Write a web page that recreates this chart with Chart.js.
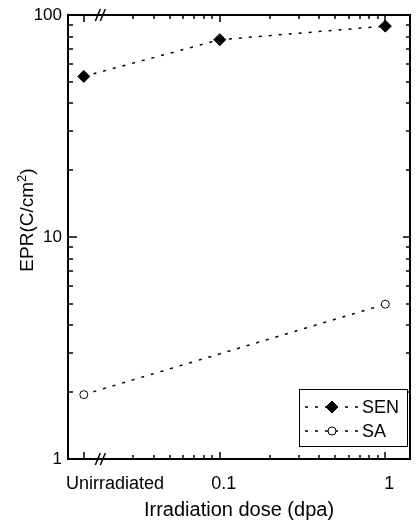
<!DOCTYPE html>
<html>
<head>
<meta charset="utf-8">
<script src="https://cdn.jsdelivr.net/npm/chart.js"></script>
<style>
  html, body { margin: 0; padding: 0; background: #fff; }
  canvas { display: block; }
</style>
</head>
<body>
<canvas id="eprChart" width="417" height="524"></canvas>
<script>
// dose positions; the unirradiated case sits left of the axis break
const doseSEN = [0.0151, 0.1, 1];
const eprSEN = [52.9, 77.4, 89.1];
const doseSA = [0.0151, 1];
const eprSA = [1.95, 4.98];

const xTickValues = [0.0151, 0.1, 1];
const xTickLabels = ['Unirradiated', '0.1', '1'];
const xMinorTicks = [0.03, 0.04, 0.05, 0.06, 0.07, 0.08, 0.09, 0.2, 0.3, 0.4, 0.5, 0.6, 0.7, 0.8, 0.9];
const yTickValues = [1, 10, 100];
const yMinorTicks = [2, 3, 4, 5, 6, 7, 8, 9, 20, 30, 40, 50, 60, 70, 80, 90];
const xBreakAt = 0.019;

const FONT = "'Liberation Sans', Arial, Helvetica, sans-serif";
Chart.defaults.font.family = FONT;
Chart.defaults.color = '#000';

function line(ctx, x1, y1, x2, y2) {
    ctx.beginPath();
    ctx.moveTo(x1, y1);
    ctx.lineTo(x2, y2);
    ctx.stroke();
}

function drawMarker(ctx, style, x, y, r, fill) {
    ctx.save();
    ctx.setLineDash([]);
    ctx.beginPath();
    if (style === 'rectRot') {
        ctx.moveTo(x, y - r);
        ctx.lineTo(x + r, y);
        ctx.lineTo(x, y + r);
        ctx.lineTo(x - r, y);
        ctx.closePath();
    } else {
        ctx.arc(x, y, r, 0, Math.PI * 2);
    }
    ctx.fillStyle = fill;
    ctx.fill();
    ctx.lineWidth = 1;
    ctx.strokeStyle = '#000';
    ctx.stroke();
    ctx.restore();
}

// frame, inward ticks, axis break, x labels, y title and the boxed legend
const decorPlugin = {
    id: 'decor',
    afterDatasetsDraw(chart) {
        const ctx = chart.ctx;
        const {left, right, top, bottom} = chart.chartArea;
        const xs = chart.scales.x;
        const ys = chart.scales.y;
        ctx.save();
        ctx.strokeStyle = '#000';

        // ticks
        ctx.lineWidth = 1.5;
        yTickValues.forEach(v => {
            const y = Math.round(ys.getPixelForValue(v));
            line(ctx, left, y, left + 9, y);
            line(ctx, right, y, right - 7, y);
        });
        yMinorTicks.forEach(v => {
            const y = Math.round(ys.getPixelForValue(v));
            line(ctx, left, y, left + 5, y);
            line(ctx, right, y, right - 4, y);
        });
        xTickValues.forEach(v => {
            const x = Math.round(xs.getPixelForValue(v));
            line(ctx, x, bottom, x, bottom - 7);
            line(ctx, x, top, x, top + 7);
        });
        xMinorTicks.forEach(v => {
            const x = Math.round(xs.getPixelForValue(v));
            line(ctx, x, bottom, x, bottom - 4);
            line(ctx, x, top, x, top + 4);
        });

        // frame
        ctx.lineWidth = 2;
        ctx.strokeRect(left, top, right - left, bottom - top);

        // axis break marks
        const bx = xs.getPixelForValue(xBreakAt);
        ctx.lineWidth = 1.5;
        [top, bottom].forEach(y => {
            line(ctx, bx - 5, y + 6, bx, y - 6);
            line(ctx, bx, y + 6, bx + 5, y - 6);
        });

        // x tick labels
        ctx.fillStyle = '#000';
        ctx.font = '18px ' + FONT;
        ctx.textBaseline = 'middle';
        xTickValues.forEach((v, i) => {
            const x = xs.getPixelForValue(v);
            if (i === 0) {
                ctx.textAlign = 'left';
                ctx.fillText(xTickLabels[i], left - 2, bottom + 25);
            } else {
                ctx.textAlign = 'center';
                ctx.fillText(xTickLabels[i], x + 4, bottom + 25);
            }
        });

        // y title with superscript
        ctx.save();
        ctx.translate(26, (top + bottom) / 2 - 17);
        ctx.rotate(-Math.PI / 2);
        const main = '19px ' + FONT;
        const sup = '13px ' + FONT;
        ctx.font = main;
        const w1 = ctx.measureText('EPR(C/cm').width;
        const w3 = ctx.measureText(')').width;
        ctx.font = sup;
        const w2 = ctx.measureText('2').width;
        let x0 = -(w1 + w2 + w3) / 2;
        ctx.textAlign = 'left';
        ctx.textBaseline = 'alphabetic';
        ctx.font = main;
        ctx.fillText('EPR(C/cm', x0, 7);
        ctx.font = sup;
        ctx.fillText('2', x0 + w1, 0);
        ctx.font = main;
        ctx.fillText(')', x0 + w1 + w2, 7);
        ctx.restore();

        // legend box
        const lx = right - 111, ly = bottom - 70, lw = 108, lh = 57;
        ctx.fillStyle = '#fff';
        ctx.fillRect(lx, ly, lw, lh);
        ctx.lineWidth = 1;
        ctx.strokeRect(lx + 0.5, ly + 0.5, lw, lh);
        chart.data.datasets.forEach((ds, i) => {
            const y = ly + 18 + i * 24;
            ctx.lineWidth = ds.borderWidth;
            ctx.setLineDash(ds.borderDash);
            line(ctx, lx + 6, y, lx + 59, y);
            ctx.setLineDash([]);
            drawMarker(ctx, ds.pointStyle, lx + 33, y, ds.pointStyle === 'rectRot' ? 6 : 4, ds.pointBackgroundColor);
            ctx.fillStyle = '#000';
            ctx.font = '18px ' + FONT;
            ctx.textAlign = 'left';
            ctx.textBaseline = 'middle';
            ctx.fillText(ds.label, lx + 63, y + 1);
        });
        ctx.restore();
    }
};

new Chart(document.getElementById('eprChart'), {
    type: 'line',
    data: {
        datasets: [
            {
                label: 'SEN',
                data: doseSEN.map((d, i) => ({x: d, y: eprSEN[i]})),
                borderColor: '#000',
                borderWidth: 1.5,
                borderDash: [3, 7],
                pointStyle: 'rectRot',
                pointRadius: 6,
                pointBackgroundColor: '#000',
                pointBorderColor: '#000',
                pointBorderWidth: 1,
                tension: 0
            },
            {
                label: 'SA',
                data: doseSA.map((d, i) => ({x: d, y: eprSA[i]})),
                borderColor: '#000',
                borderWidth: 1.5,
                borderDash: [3, 7],
                pointStyle: 'circle',
                pointRadius: 4,
                pointBackgroundColor: '#fff',
                pointBorderColor: '#000',
                pointBorderWidth: 1,
                tension: 0
            }
        ]
    },
    options: {
        responsive: false,
        animation: false,
        layout: { padding: { top: 15, right: 2, left: 0, bottom: 0 } },
        plugins: {
            legend: { display: false },
            tooltip: { enabled: false }
        },
        scales: {
            x: {
                type: 'logarithmic',
                min: 0.01212,
                max: 1.409,
                grid: { display: false, drawTicks: false },
                border: { display: false },
                ticks: { display: false },
                afterBuildTicks: scale => {
                    scale.ticks = xTickValues.map(v => ({value: v}));
                },
                afterFit: scale => {
                    scale.height = 65;
                    scale.paddingLeft = 0;
                    scale.paddingRight = 0;
                },
                title: {
                    display: true,
                    text: 'Irradiation dose (dpa)',
                    font: { size: 20 },
                    padding: { top: 0, bottom: 2 }
                }
            },
            y: {
                type: 'logarithmic',
                min: 1,
                max: 100,
                grid: { display: false, drawTicks: false },
                border: { display: false },
                ticks: {
                    font: { size: 17 },
                    padding: 6,
                    callback: v => String(v)
                },
                afterBuildTicks: scale => {
                    scale.ticks = yTickValues.map(v => ({value: v}));
                },
                afterFit: scale => {
                    scale.width = 68;
                    scale.paddingTop = 0;
                    scale.paddingBottom = 0;
                }
            }
        }
    },
    plugins: [decorPlugin]
});
</script>
</body>
</html>
